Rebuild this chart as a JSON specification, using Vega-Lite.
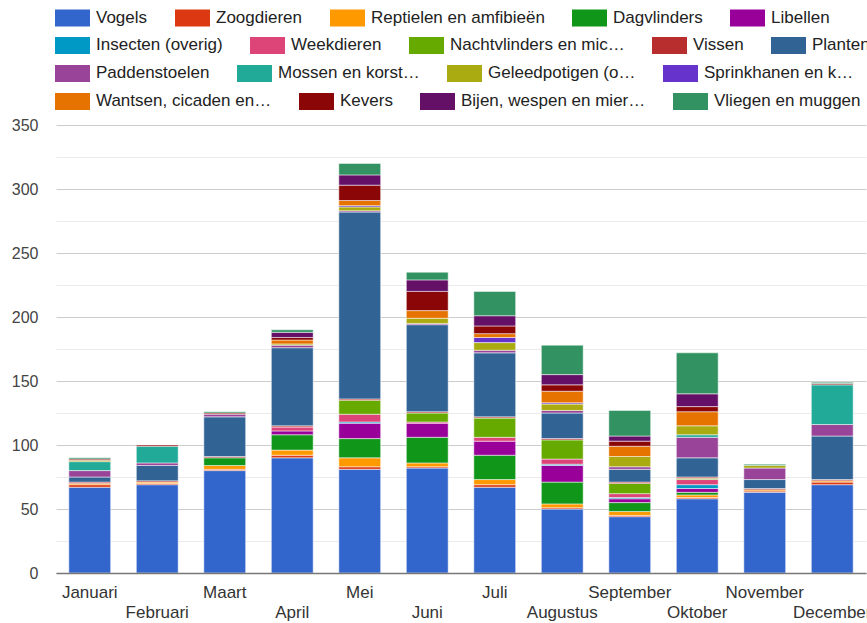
{
  "$schema": "https://vega.github.io/schema/vega-lite/v6.json",
  "width": 810,
  "height": 448,
  "autosize": {"type": "none"},
  "padding": {"left": 56, "top": 125, "right": 1, "bottom": 50},
  "background": "white",
  "config": {
    "view": {"stroke": null},
    "axis": {"labelFont": "Liberation Sans", "titleFont": "Liberation Sans"},
    "legend": {
      "labelFont": "Liberation Sans",
      "labelFontSize": 17,
      "labelColor": "#222222",
      "symbolSize": 1225,
      "symbolStrokeWidth": 0,
      "symbolOpacity": 1,
      "labelOffset": 6,
      "columnPadding": 27,
      "padding": 0,
      "labelLimit": 400,
      "offset": 0
    }
  },
  "data": {
    "values": [
      {"m": "Januari", "c": "Vogels", "v": 67},
      {"m": "Januari", "c": "Zoogdieren", "v": 2},
      {"m": "Januari", "c": "Reptielen en amfibieën", "v": 1},
      {"m": "Januari", "c": "Vissen", "v": 1},
      {"m": "Januari", "c": "Planten", "v": 4},
      {"m": "Januari", "c": "Paddenstoelen", "v": 5},
      {"m": "Januari", "c": "Mossen en korst…", "v": 7},
      {"m": "Januari", "c": "Geleedpotigen (o…", "v": 1},
      {"m": "Januari", "c": "Kevers", "v": 1},
      {"m": "Januari", "c": "Vliegen en muggen", "v": 1},

      {"m": "Februari", "c": "Vogels", "v": 69},
      {"m": "Februari", "c": "Zoogdieren", "v": 1},
      {"m": "Februari", "c": "Reptielen en amfibieën", "v": 1},
      {"m": "Februari", "c": "Vissen", "v": 1},
      {"m": "Februari", "c": "Planten", "v": 12},
      {"m": "Februari", "c": "Paddenstoelen", "v": 2},
      {"m": "Februari", "c": "Mossen en korst…", "v": 13},
      {"m": "Februari", "c": "Kevers", "v": 1},

      {"m": "Maart", "c": "Vogels", "v": 80},
      {"m": "Maart", "c": "Zoogdieren", "v": 1},
      {"m": "Maart", "c": "Reptielen en amfibieën", "v": 3},
      {"m": "Maart", "c": "Dagvlinders", "v": 6},
      {"m": "Maart", "c": "Vissen", "v": 1},
      {"m": "Maart", "c": "Planten", "v": 31},
      {"m": "Maart", "c": "Paddenstoelen", "v": 2},
      {"m": "Maart", "c": "Kevers", "v": 1},
      {"m": "Maart", "c": "Vliegen en muggen", "v": 1},

      {"m": "April", "c": "Vogels", "v": 90},
      {"m": "April", "c": "Zoogdieren", "v": 2},
      {"m": "April", "c": "Reptielen en amfibieën", "v": 4},
      {"m": "April", "c": "Dagvlinders", "v": 12},
      {"m": "April", "c": "Libellen", "v": 3},
      {"m": "April", "c": "Weekdieren", "v": 3},
      {"m": "April", "c": "Vissen", "v": 1},
      {"m": "April", "c": "Planten", "v": 61},
      {"m": "April", "c": "Paddenstoelen", "v": 2},
      {"m": "April", "c": "Geleedpotigen (o…", "v": 1},
      {"m": "April", "c": "Wantsen, cicaden en…", "v": 3},
      {"m": "April", "c": "Kevers", "v": 2},
      {"m": "April", "c": "Bijen, wespen en mier…", "v": 4},
      {"m": "April", "c": "Vliegen en muggen", "v": 2},

      {"m": "Mei", "c": "Vogels", "v": 81},
      {"m": "Mei", "c": "Zoogdieren", "v": 2},
      {"m": "Mei", "c": "Reptielen en amfibieën", "v": 7},
      {"m": "Mei", "c": "Dagvlinders", "v": 15},
      {"m": "Mei", "c": "Libellen", "v": 12},
      {"m": "Mei", "c": "Insecten (overig)", "v": 1},
      {"m": "Mei", "c": "Weekdieren", "v": 6},
      {"m": "Mei", "c": "Nachtvlinders en mic…", "v": 11},
      {"m": "Mei", "c": "Vissen", "v": 1},
      {"m": "Mei", "c": "Planten", "v": 146},
      {"m": "Mei", "c": "Paddenstoelen", "v": 1},
      {"m": "Mei", "c": "Geleedpotigen (o…", "v": 3},
      {"m": "Mei", "c": "Sprinkhanen en k…", "v": 1},
      {"m": "Mei", "c": "Wantsen, cicaden en…", "v": 4},
      {"m": "Mei", "c": "Kevers", "v": 12},
      {"m": "Mei", "c": "Bijen, wespen en mier…", "v": 8},
      {"m": "Mei", "c": "Vliegen en muggen", "v": 9},

      {"m": "Juni", "c": "Vogels", "v": 82},
      {"m": "Juni", "c": "Zoogdieren", "v": 1},
      {"m": "Juni", "c": "Reptielen en amfibieën", "v": 3},
      {"m": "Juni", "c": "Dagvlinders", "v": 20},
      {"m": "Juni", "c": "Libellen", "v": 11},
      {"m": "Juni", "c": "Weekdieren", "v": 1},
      {"m": "Juni", "c": "Nachtvlinders en mic…", "v": 7},
      {"m": "Juni", "c": "Vissen", "v": 1},
      {"m": "Juni", "c": "Planten", "v": 68},
      {"m": "Juni", "c": "Paddenstoelen", "v": 1},
      {"m": "Juni", "c": "Geleedpotigen (o…", "v": 4},
      {"m": "Juni", "c": "Wantsen, cicaden en…", "v": 6},
      {"m": "Juni", "c": "Kevers", "v": 15},
      {"m": "Juni", "c": "Bijen, wespen en mier…", "v": 9},
      {"m": "Juni", "c": "Vliegen en muggen", "v": 6},

      {"m": "Juli", "c": "Vogels", "v": 67},
      {"m": "Juli", "c": "Zoogdieren", "v": 2},
      {"m": "Juli", "c": "Reptielen en amfibieën", "v": 4},
      {"m": "Juli", "c": "Dagvlinders", "v": 19},
      {"m": "Juli", "c": "Libellen", "v": 11},
      {"m": "Juli", "c": "Weekdieren", "v": 3},
      {"m": "Juli", "c": "Nachtvlinders en mic…", "v": 15},
      {"m": "Juli", "c": "Vissen", "v": 1},
      {"m": "Juli", "c": "Planten", "v": 50},
      {"m": "Juli", "c": "Paddenstoelen", "v": 2},
      {"m": "Juli", "c": "Geleedpotigen (o…", "v": 6},
      {"m": "Juli", "c": "Sprinkhanen en k…", "v": 4},
      {"m": "Juli", "c": "Wantsen, cicaden en…", "v": 3},
      {"m": "Juli", "c": "Kevers", "v": 6},
      {"m": "Juli", "c": "Bijen, wespen en mier…", "v": 8},
      {"m": "Juli", "c": "Vliegen en muggen", "v": 19},

      {"m": "Augustus", "c": "Vogels", "v": 50},
      {"m": "Augustus", "c": "Zoogdieren", "v": 1},
      {"m": "Augustus", "c": "Reptielen en amfibieën", "v": 3},
      {"m": "Augustus", "c": "Dagvlinders", "v": 17},
      {"m": "Augustus", "c": "Libellen", "v": 13},
      {"m": "Augustus", "c": "Insecten (overig)", "v": 1},
      {"m": "Augustus", "c": "Weekdieren", "v": 4},
      {"m": "Augustus", "c": "Nachtvlinders en mic…", "v": 15},
      {"m": "Augustus", "c": "Vissen", "v": 1},
      {"m": "Augustus", "c": "Planten", "v": 20},
      {"m": "Augustus", "c": "Paddenstoelen", "v": 2},
      {"m": "Augustus", "c": "Geleedpotigen (o…", "v": 5},
      {"m": "Augustus", "c": "Sprinkhanen en k…", "v": 1},
      {"m": "Augustus", "c": "Wantsen, cicaden en…", "v": 9},
      {"m": "Augustus", "c": "Kevers", "v": 5},
      {"m": "Augustus", "c": "Bijen, wespen en mier…", "v": 8},
      {"m": "Augustus", "c": "Vliegen en muggen", "v": 23},

      {"m": "September", "c": "Vogels", "v": 44},
      {"m": "September", "c": "Zoogdieren", "v": 1},
      {"m": "September", "c": "Reptielen en amfibieën", "v": 3},
      {"m": "September", "c": "Dagvlinders", "v": 7},
      {"m": "September", "c": "Libellen", "v": 3},
      {"m": "September", "c": "Insecten (overig)", "v": 1},
      {"m": "September", "c": "Weekdieren", "v": 3},
      {"m": "September", "c": "Nachtvlinders en mic…", "v": 8},
      {"m": "September", "c": "Vissen", "v": 1},
      {"m": "September", "c": "Planten", "v": 10},
      {"m": "September", "c": "Paddenstoelen", "v": 2},
      {"m": "September", "c": "Geleedpotigen (o…", "v": 8},
      {"m": "September", "c": "Wantsen, cicaden en…", "v": 8},
      {"m": "September", "c": "Kevers", "v": 4},
      {"m": "September", "c": "Bijen, wespen en mier…", "v": 4},
      {"m": "September", "c": "Vliegen en muggen", "v": 20},

      {"m": "Oktober", "c": "Vogels", "v": 58},
      {"m": "Oktober", "c": "Zoogdieren", "v": 1},
      {"m": "Oktober", "c": "Reptielen en amfibieën", "v": 2},
      {"m": "Oktober", "c": "Dagvlinders", "v": 2},
      {"m": "Oktober", "c": "Libellen", "v": 3},
      {"m": "Oktober", "c": "Insecten (overig)", "v": 3},
      {"m": "Oktober", "c": "Weekdieren", "v": 4},
      {"m": "Oktober", "c": "Nachtvlinders en mic…", "v": 1},
      {"m": "Oktober", "c": "Vissen", "v": 1},
      {"m": "Oktober", "c": "Planten", "v": 15},
      {"m": "Oktober", "c": "Paddenstoelen", "v": 16},
      {"m": "Oktober", "c": "Mossen en korst…", "v": 2},
      {"m": "Oktober", "c": "Geleedpotigen (o…", "v": 7},
      {"m": "Oktober", "c": "Wantsen, cicaden en…", "v": 11},
      {"m": "Oktober", "c": "Kevers", "v": 4},
      {"m": "Oktober", "c": "Bijen, wespen en mier…", "v": 10},
      {"m": "Oktober", "c": "Vliegen en muggen", "v": 32},

      {"m": "November", "c": "Vogels", "v": 63},
      {"m": "November", "c": "Zoogdieren", "v": 1},
      {"m": "November", "c": "Reptielen en amfibieën", "v": 1},
      {"m": "November", "c": "Vissen", "v": 1},
      {"m": "November", "c": "Planten", "v": 7},
      {"m": "November", "c": "Paddenstoelen", "v": 9},
      {"m": "November", "c": "Geleedpotigen (o…", "v": 2},
      {"m": "November", "c": "Vliegen en muggen", "v": 1},

      {"m": "December", "c": "Vogels", "v": 69},
      {"m": "December", "c": "Zoogdieren", "v": 2},
      {"m": "December", "c": "Reptielen en amfibieën", "v": 1},
      {"m": "December", "c": "Vissen", "v": 1},
      {"m": "December", "c": "Planten", "v": 34},
      {"m": "December", "c": "Paddenstoelen", "v": 9},
      {"m": "December", "c": "Mossen en korst…", "v": 31},
      {"m": "December", "c": "Kevers", "v": 1},
      {"m": "December", "c": "Vliegen en muggen", "v": 1}
    ]
  },
  "transform": [
    {"window": [{"op": "row_number", "as": "o"}], "groupby": ["m"]},
    {"stack": "v", "groupby": ["m"], "sort": [{"field": "o", "order": "ascending"}], "as": ["y0", "y1"]}
  ],
  "encoding": {
    "x": {
      "field": "m",
      "type": "nominal",
      "sort": ["Januari", "Februari", "Maart", "April", "Mei", "Juni", "Juli", "Augustus", "September", "Oktober", "November", "December"],
      "scale": {"paddingInner": 0.38, "paddingOuter": 0.19},
      "axis": {
        "title": null,
        "labelAngle": 0,
        "ticks": false,
        "domain": true,
        "domainColor": "#777777",
        "domainWidth": 1.5,
        "grid": false,
        "labelFontSize": 17,
        "labelColor": "#333333",
        "labelPadding": 11,
        "labelOverlap": false,
        "labelLineHeight": 20,
        "labelExpr": "indexof(['Februari','April','Juni','Augustus','Oktober','December'], datum.label) >= 0 ? ['', datum.label] : datum.label",
        "zindex": 1
      }
    }
  },
  "layer": [
    {
      "transform": [{"filter": {"field": "c", "oneOf": ["Vogels", "Zoogdieren", "Reptielen en amfibieën", "Dagvlinders", "Libellen"]}}],
      "mark": {"type": "bar", "stroke": "#ffffff", "strokeWidth": 1, "strokeOpacity": 0.5},
      "encoding": {
        "y": {
          "field": "y0", "type": "quantitative",
          "scale": {"domain": [0, 350], "nice": false},
          "axis": {
            "title": null,
            "values": [0, 50, 100, 150, 200, 250, 300, 350],
            "grid": true, "gridColor": "#cccccc",
            "domain": false, "ticks": false, "tickSize": 0,
            "labelPadding": 18, "labelFontSize": 16, "labelColor": "#444444"
          }
        },
        "y2": {"field": "y1"},
        "color": {
          "field": "c", "type": "nominal",
          "scale": {"domain": ["Vogels", "Zoogdieren", "Reptielen en amfibieën", "Dagvlinders", "Libellen"], "range": ["#3366cc", "#dc3912", "#ff9900", "#109618", "#990099"]},
          "legend": {"orient": "none", "legendX": -1, "legendY": -125, "direction": "horizontal", "title": null, "symbolType": "M-1,-0.486L1,-0.486L1,0.486L-1,0.486Z"}
        }
      }
    },
    {
      "transform": [{"filter": {"field": "c", "oneOf": ["Insecten (overig)", "Weekdieren", "Nachtvlinders en mic…", "Vissen", "Planten"]}}],
      "mark": {"type": "bar", "stroke": "#ffffff", "strokeWidth": 1, "strokeOpacity": 0.5},
      "encoding": {
        "y": {
          "field": "y0", "type": "quantitative",
          "axis": {
            "title": null, "orient": "right",
            "values": [25, 75, 125, 175, 225, 275, 325],
            "grid": true, "gridColor": "#ebebeb",
            "labels": false, "domain": false, "ticks": false
          }
        },
        "y2": {"field": "y1"},
        "color": {
          "field": "c", "type": "nominal",
          "scale": {"domain": ["Insecten (overig)", "Weekdieren", "Nachtvlinders en mic…", "Vissen", "Planten"], "range": ["#0099c6", "#dd4477", "#66aa00", "#b82e2e", "#316395"]},
          "legend": {"orient": "none", "legendX": -1, "legendY": -97.5, "direction": "horizontal", "title": null, "symbolType": "M-1,-0.486L1,-0.486L1,0.486L-1,0.486Z"}
        }
      }
    },
    {
      "transform": [{"filter": {"field": "c", "oneOf": ["Paddenstoelen", "Mossen en korst…", "Geleedpotigen (o…", "Sprinkhanen en k…"]}}],
      "mark": {"type": "bar", "stroke": "#ffffff", "strokeWidth": 1, "strokeOpacity": 0.5},
      "encoding": {
        "y": {"field": "y0", "type": "quantitative", "axis": null},
        "y2": {"field": "y1"},
        "color": {
          "field": "c", "type": "nominal",
          "scale": {"domain": ["Paddenstoelen", "Mossen en korst…", "Geleedpotigen (o…", "Sprinkhanen en k…"], "range": ["#994499", "#22aa99", "#aaaa11", "#6633cc"]},
          "legend": {"orient": "none", "legendX": -1, "legendY": -69.5, "direction": "horizontal", "title": null, "symbolType": "M-1,-0.486L1,-0.486L1,0.486L-1,0.486Z"}
        }
      }
    },
    {
      "transform": [{"filter": {"field": "c", "oneOf": ["Wantsen, cicaden en…", "Kevers", "Bijen, wespen en mier…", "Vliegen en muggen"]}}],
      "mark": {"type": "bar", "stroke": "#ffffff", "strokeWidth": 1, "strokeOpacity": 0.5},
      "encoding": {
        "y": {"field": "y0", "type": "quantitative", "axis": null},
        "y2": {"field": "y1"},
        "color": {
          "field": "c", "type": "nominal",
          "scale": {"domain": ["Wantsen, cicaden en…", "Kevers", "Bijen, wespen en mier…", "Vliegen en muggen"], "range": ["#e67300", "#8b0707", "#651067", "#329262"]},
          "legend": {"orient": "none", "legendX": -1, "legendY": -41.5, "direction": "horizontal", "title": null, "symbolType": "M-1,-0.486L1,-0.486L1,0.486L-1,0.486Z"}
        }
      }
    }
  ],
  "resolve": {
    "scale": {"color": "independent"},
    "legend": {"color": "independent"},
    "axis": {"y": "independent"}
  }
}
